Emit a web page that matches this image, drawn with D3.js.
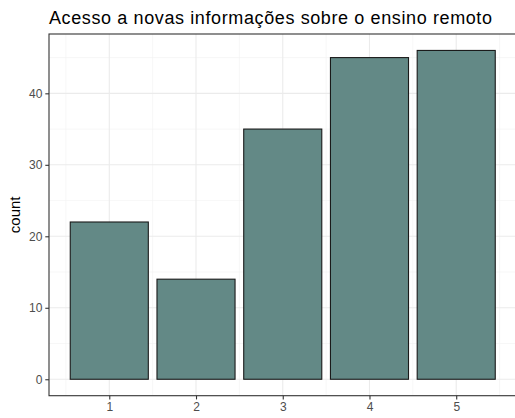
<!DOCTYPE html>
<html>
<head>
  <meta charset="UTF-8">
  <style>
    body { margin: 0; background: white; }
    text { font-family: "Liberation Sans", Arial, sans-serif; }
  </style>
</head>
<body>
<svg></svg>
<script src="https://d3js.org/d3.v7.min.js"></script>
<script>

let width = 515, height = 418;

// data
let categories = [1, 2, 3, 4, 5];
let counts = [22, 14, 35, 45, 46];
let yTicks = [0, 10, 20, 30, 40];
let title = "Acesso a novas informações sobre o ensino remoto";

let svg = d3.select("svg")
    .attr("width", width)
    .attr("height", height);

let panel = {left: 49, right: 516.5, top: 34, bottom: 395.7};

// continuous x like ggplot, bar width 0.9, 5% expansion
let xmin = 0.55, xmax = 5.45, xpad = (xmax - xmin) * 0.05;
let x = d3.scaleLinear()
    .domain([xmin - xpad, xmax + xpad])
    .range([panel.left, panel.right]);

let ymax = d3.max(counts), ypad = ymax * 0.05;
let y = d3.scaleLinear()
    .domain([-ypad, ymax + ypad])
    .range([panel.bottom, panel.top]);

let data = categories.map((c, i) => ({cat: c, n: counts[i]}));

// panel background
svg.append("rect")
.attr("x", panel.left).attr("y", panel.top)
.attr("width", panel.right - panel.left)
.attr("height", panel.bottom - panel.top)
.attr("fill", "white");

// minor grid
let xMinor = [0.5, 1.5, 2.5, 3.5, 4.5, 5.5];
let yMinor = [5, 15, 25, 35, 45];
let grid = svg.append("g");
grid.selectAll(".xminor").data(xMinor).enter().append("line")
.attr("x1", d => x(d)).attr("x2", d => x(d))
.attr("y1", panel.top).attr("y2", panel.bottom)
.attr("stroke", "#f2f2f2").attr("stroke-width", 0.6);
grid.selectAll(".yminor").data(yMinor).enter().append("line")
.attr("y1", d => y(d)).attr("y2", d => y(d))
.attr("x1", panel.left).attr("x2", panel.right)
.attr("stroke", "#f2f2f2").attr("stroke-width", 0.6);
// major grid
grid.selectAll(".xmajor").data(categories).enter().append("line")
.attr("x1", d => x(d)).attr("x2", d => x(d))
.attr("y1", panel.top).attr("y2", panel.bottom)
.attr("stroke", "#ebebeb").attr("stroke-width", 1.1);
grid.selectAll(".ymajor").data(yTicks).enter().append("line")
.attr("y1", d => y(d)).attr("y2", d => y(d))
.attr("x1", panel.left).attr("x2", panel.right)
.attr("stroke", "#ebebeb").attr("stroke-width", 1.1);

// bars
svg.append("g")
.selectAll("rect")
.data(data)
.enter()
.append("rect")
.attr("x", d => x(d.cat - 0.45))
.attr("width", d => x(d.cat + 0.45) - x(d.cat - 0.45))
.attr("y", d => y(d.n))
.attr("height", d => y(0) - y(d.n))
.attr("fill", "#638986")
.attr("stroke", "#1a1a1a")
.attr("stroke-width", 1.1);

// panel border
svg.append("rect")
.attr("x", panel.left).attr("y", panel.top)
.attr("width", panel.right - panel.left)
.attr("height", panel.bottom - panel.top)
.attr("fill", "none")
.attr("stroke", "#333333")
.attr("stroke-width", 1.1);

// axes
let xAxis = d3.axisBottom(x).tickValues(categories).tickFormat(d3.format("d")).tickSize(3.7).tickPadding(3);
let yAxis = d3.axisLeft(y).tickValues(yTicks).tickFormat(d3.format("d")).tickSize(3.7).tickPadding(3);

let gx = svg.append("g")
.attr("transform", "translate(0," + panel.bottom + ")")
.call(xAxis);
let gy = svg.append("g")
.attr("transform", "translate(" + panel.left + ",0)")
.call(yAxis);

[gx, gy].forEach(g => {
    g.select(".domain").remove();
    g.selectAll(".tick line").attr("stroke", "#333333").attr("stroke-width", 1.1);
    g.selectAll(".tick text")
    .attr("fill", "#4d4d4d")
    .style("font-size", "12px")
    .style("font-family", "'Liberation Sans', Arial, sans-serif");
});

// title
svg.append("text")
.attr("x", panel.left)
.attr("y", 24)
.attr("fill", "black")
.style("font-size", "18px")
.attr("textLength", 443)
.attr("lengthAdjust", "spacing")
.text(title);

// y label
svg.append("text")
.attr("transform", "translate(20," + ((panel.top + panel.bottom) / 2) + ") rotate(-90)")
.attr("text-anchor", "middle")
.attr("fill", "black")
.style("font-size", "15px")
.text("count");

</script>
</body>
</html>
